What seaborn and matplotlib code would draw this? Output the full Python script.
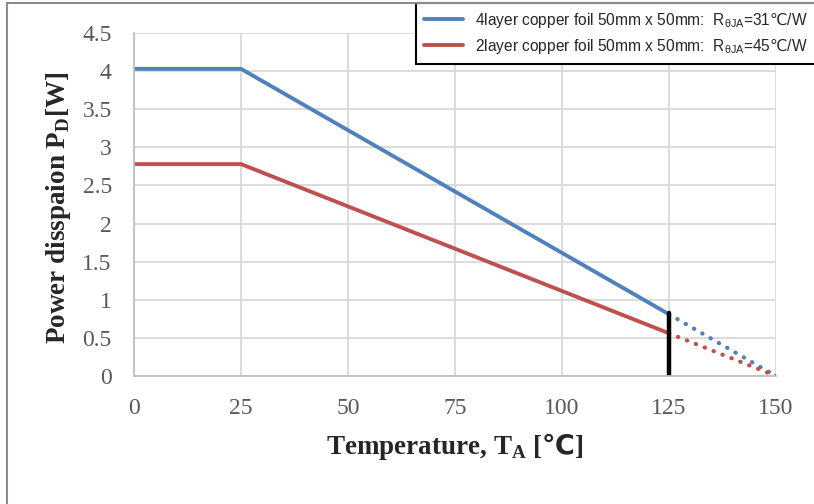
import seaborn as sns
import pandas as pd
import matplotlib.pyplot as plt
from matplotlib.patches import Rectangle

# valores
temp_solid = [0, 25, 125]
pd_4layer = [4.03, 4.03, 0.81]
pd_2layer = [2.78, 2.78, 0.56]
temp_dot = [125, 150]
pd_4layer_dot = [0.81, 0.0]
pd_2layer_dot = [0.56, 0.0]
limit_x = [125, 125]
limit_y = [0.0, 0.83]

label_4 = '4layer copper foil 50mm x 50mm:  R$_{\\mathregular{θJA}}$=31$\\mathrm{℃}$/W'
label_2 = '2layer copper foil 50mm x 50mm:  R$_{\\mathregular{θJA}}$=45$\\mathrm{℃}$/W'
x_ticks = [0, 25, 50, 75, 100, 125, 150]
y_ticks = [0, 0.5, 1, 1.5, 2, 2.5, 3, 3.5, 4, 4.5]

sns.set_style('white')
plt.rcParams['font.family'] = ['Liberation Sans', 'DejaVu Sans']
plt.rcParams['mathtext.fontset'] = 'custom'
plt.rcParams['mathtext.rm'] = 'DejaVu Sans'
plt.rcParams['mathtext.bf'] = 'DejaVu Sans:bold'

blue = '#4F81BD'
red = '#C0504D'

fig = plt.figure(figsize=(8.14, 5.04), dpi=100)
ax = fig.add_axes([0.1646, 0.254, 0.7887, 0.6805])

sns.lineplot(x=temp_solid, y=pd_4layer, color=blue, linewidth=2.8, ax=ax, label=label_4)
sns.lineplot(x=temp_solid, y=pd_2layer, color=red, linewidth=2.8, ax=ax, label=label_2)
sns.lineplot(x=temp_dot, y=pd_4layer_dot, color=blue, linewidth=3, ax=ax,
             linestyle=(0, (0.1, 2.2)), dash_capstyle='round')
sns.lineplot(x=temp_dot, y=pd_2layer_dot, color=red, linewidth=3, ax=ax,
             linestyle=(0, (0.1, 2.2)), dash_capstyle='round')
sns.lineplot(x=limit_x, y=limit_y, color='black', linewidth=3.2, ax=ax,
             estimator=None, sort=False)

ax.set_xlim(0, 150)
ax.set_ylim(0, 4.5)
ax.set_xticks(x_ticks)
ax.set_yticks(y_ticks)
ax.set_xticklabels([str(v) for v in x_ticks])
ax.set_yticklabels(['0', '0.5', '1', '1.5', '2', '2.5', '3', '3.5', '4', '4.5'])
ax.grid(True, color='#d9d9d9', linewidth=1.3)
ax.set_axisbelow(True)
for side in ['top', 'right']:
    ax.spines[side].set_visible(False)
for side in ['left', 'bottom']:
    ax.spines[side].set_color('#bfbfbf')
    ax.spines[side].set_linewidth(1.3)
ax.tick_params(length=0, labelcolor='#595959', labelsize=17)
ax.tick_params(axis='x', pad=15.5)
ax.tick_params(axis='y', pad=16)
for t in ax.get_xticklabels() + ax.get_yticklabels():
    t.set_family(['Liberation Serif', 'DejaVu Serif'])

ax.set_xlabel('Temperature, T$_{\\mathregular{A}}$ [$\\mathbf{℃}$]', fontsize=19.5, fontweight='bold',
              family=['Liberation Serif', 'DejaVu Serif'], labelpad=9)
ax.set_ylabel('Power disspaion P$_{\\mathregular{D}}$[W]', fontsize=19.5, fontweight='bold',
              family=['Liberation Serif', 'DejaVu Serif'])
ax.yaxis.set_label_coords(-0.095, 0.49)

leg = ax.legend(loc='upper right', bbox_to_anchor=(1.0025, 1 - 3 / 504),
                bbox_transform=fig.transFigure, borderaxespad=0, fontsize=11.2,
                frameon=True, fancybox=False, edgecolor='black', handlelength=2.5,
                borderpad=0.5, labelspacing=0.45)
leg.get_frame().set_linewidth(1.5)
leg.get_frame().set_alpha(1)

# moldura do gráfico
fig.patches.append(Rectangle((7 / 814, -0.1), 1.2, 1.1 - 3 / 504, transform=fig.transFigure,
                             fill=False, edgecolor='#8c8c8c', linewidth=1.5))

fig.savefig('out.png', dpi=100)
